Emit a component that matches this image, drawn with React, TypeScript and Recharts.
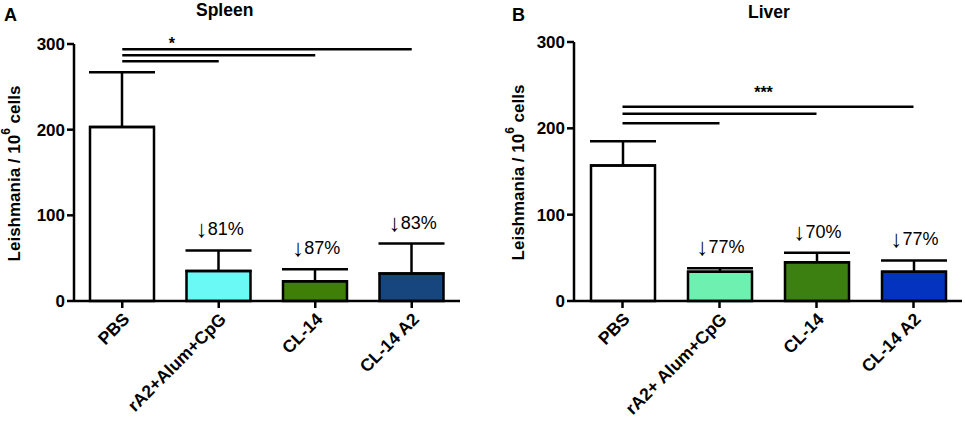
import React from "react";
import {
  Bar,
  BarChart,
  Cell,
  ErrorBar,
  ReferenceDot,
  ReferenceLine,
  XAxis,
  YAxis,
} from "recharts";

const FONT = "'Liberation Sans', Arial, sans-serif";

// Spleen (panel A)
const spleenCategories = ["PBS", "rA2+Alum+CpG", "CL-14", "CL-14 A2"];
const spleenMean = [203, 35, 23, 32];
const spleenSem = [64, 24, 14, 35];
const spleenReduction = ["", "↓81%", "↓87%", "↓83%"];
const spleenColors = ["#ffffff", "#6bf9f6", "#3f7f07", "#17467f"];
const spleenSigLines = [280, 287, 294]; // PBS vs groups 1..3
const spleenStars = "*";

// Liver (panel B)
const liverCategories = ["PBS", "rA2+ Alum+CpG", "CL-14", "CL-14 A2"];
const liverMean = [157, 34, 45, 34];
const liverSem = [28, 4, 11, 13];
const liverReduction = ["", "↓77%", "↓70%", "↓77%"];
const liverColors = ["#ffffff", "#6ef0b0", "#3c8012", "#0433bf"];
const liverSigLines = [206, 217, 225];
const liverStars = "***";

const yTicks = [0, 100, 200, 300];

const XTick = (props: any) => {
  const { x, y, payload } = props;
  return (
    <g transform={`translate(${x + 4},${y + 6})`}>
      <text
        textAnchor="end"
        transform="rotate(-45)"
        dy="0.35em"
        fontSize={17.5}
        fontWeight="bold"
        fontFamily={FONT}
        fill="#000"
      >
        {payload.value}
      </text>
    </g>
  );
};

const makeYLabel = (offset: number) => (props: any) => {
  const vb = props.viewBox || { x: 0, y: 0, width: 0, height: 0 };
  const cx = vb.x + vb.width - offset;
  const cy = vb.y + vb.height / 2 + 1;
  return (
    <text
      transform={`translate(${cx},${cy}) rotate(-90)`}
      textAnchor="middle"
      dominantBaseline="central"
      fontSize={17}
      fontWeight="bold"
      fontFamily={FONT}
      fill="#000"
    >
      Leishmania / 10
      <tspan dy={-8} fontSize={12}>
        6
      </tspan>
      <tspan dy={8}> cells</tspan>
    </text>
  );
};

function Panel({
  width,
  top,
  right,
  yAxisWidth,
  labelOffset,
  categories,
  mean,
  sem,
  reduction,
  colors,
  sigLines,
  stars,
  starAt,
  starDx,
  starDy,
}: any) {
  const data = categories.map((name: string, i: number) => ({
    name,
    value: mean[i],
    err: [0, sem[i]],
  }));
  const YLabel = makeYLabel(labelOffset);
  return (
    <BarChart
      width={width}
      height={421}
      data={data}
      margin={{ top, right, left: 0, bottom: 0 }}
    >
      <XAxis
        dataKey="name"
        height={120}
        interval={0}
        axisLine={{ stroke: "#000", strokeWidth: 2.5 }}
        tickLine={{ stroke: "#000", strokeWidth: 2.5 }}
        tickSize={7}
        tick={<XTick />}
      />
      <YAxis
        width={yAxisWidth}
        domain={[0, 300]}
        ticks={yTicks}
        axisLine={{ stroke: "#000", strokeWidth: 2.5 }}
        tickLine={{ stroke: "#000", strokeWidth: 2.5 }}
        tickSize={7}
        tick={{ fontSize: 17, fontWeight: "bold", fill: "#000", fontFamily: FONT }}
        label={<YLabel />}
      />
      <Bar
        dataKey="value"
        barSize={64}
        stroke="#000"
        strokeWidth={2.5}
        isAnimationActive={false}
      >
        {data.map((d: any, i: number) => (
          <Cell key={d.name} fill={colors[i]} />
        ))}
        <ErrorBar
          dataKey="err"
          width={33}
          stroke="#000"
          strokeWidth={2.5}
          direction="y"
          isAnimationActive={false}
        />
      </Bar>
      {sigLines.map((h: number, i: number) => (
        <ReferenceLine
          key={`sig-${i}`}
          segment={[
            { x: categories[0], y: h },
            { x: categories[i + 1], y: h },
          ]}
          stroke="#000"
          strokeWidth={2.5}
        />
      ))}
      <ReferenceDot
        x={categories[starAt]}
        y={sigLines[sigLines.length - 1]}
        r={0}
        fill="none"
        stroke="none"
        label={(p: any) => {
          const vb = p.viewBox;
          return (
            <text
              x={vb.x + vb.width / 2 + starDx}
              y={vb.y + vb.height / 2 + starDy}
              textAnchor="middle"
              dominantBaseline="central"
              fontSize={16}
              fontWeight="bold"
              fontFamily={FONT}
              fill="#000"
            >
              {stars}
            </text>
          );
        }}
      />
      {reduction.map((txt: string, i: number) =>
        txt ? (
          <ReferenceDot
            key={`red-${i}`}
            x={categories[i]}
            y={mean[i] + sem[i]}
            r={0}
            fill="none"
            stroke="none"
            label={(p: any) => {
              const vb = p.viewBox;
              return (
                <text
                  x={vb.x + vb.width / 2 + 1}
                  y={vb.y + vb.height / 2 - 13}
                  textAnchor="middle"
                  fontSize={18}
                  fontFamily={FONT}
                  fill="#000"
                >
                  <tspan fontSize={24}>{txt.slice(0, 1)}</tspan>
                  <tspan dy={-2}>{txt.slice(1)}</tspan>
                </text>
              );
            }}
          />
        ) : null
      )}
    </BarChart>
  );
}

const titleStyle: React.CSSProperties = {
  position: "absolute",
  fontFamily: FONT,
  fontWeight: "bold",
  fontSize: 17.5,
  lineHeight: "20px",
  color: "#000",
};

export default function App() {
  return (
    <div
      style={{
        position: "absolute",
        left: 0,
        top: 0,
        width: 965,
        height: 421,
        background: "#fff",
        overflow: "hidden",
      }}
    >
      <div style={{ position: "absolute", left: 0, top: 0 }}>
        <Panel
          width={480}
          top={44}
          right={20}
          yAxisWidth={74}
          labelOffset={60}
          categories={spleenCategories}
          mean={spleenMean}
          sem={spleenSem}
          reduction={spleenReduction}
          colors={spleenColors}
          sigLines={spleenSigLines}
          stars={spleenStars}
          starAt={1}
          starDx={-47}
          starDy={-6}
        />
      </div>
      <div style={{ position: "absolute", left: 480, top: 0 }}>
        <Panel
          width={485}
          top={42}
          right={3}
          yAxisWidth={94}
          labelOffset={56}
          categories={liverCategories}
          mean={liverMean}
          sem={liverSem}
          reduction={liverReduction}
          colors={liverColors}
          sigLines={liverSigLines}
          stars={liverStars}
          starAt={1}
          starDx={44}
          starDy={-14}
        />
      </div>
      <div style={{ ...titleStyle, left: 4, top: 5, fontSize: 18 }}>A</div>
      <div style={{ ...titleStyle, left: 196, top: 0 }}>Spleen</div>
      <div style={{ ...titleStyle, left: 512, top: 5, fontSize: 18 }}>B</div>
      <div style={{ ...titleStyle, left: 748, top: 2 }}>Liver</div>
    </div>
  );
}
